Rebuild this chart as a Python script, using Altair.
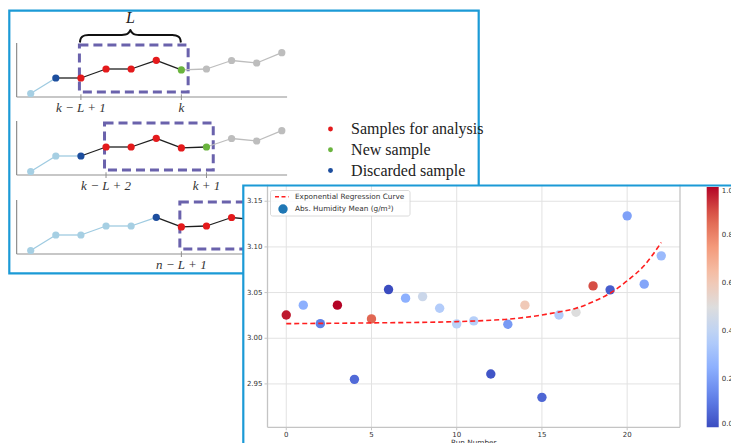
import altair as alt
import pandas as pd

# ---------------- sliding-window diagram (left) ----------------
SERIES = [3.5, 19.0, 19.0, 28.0, 28.0, 36.7, 27.1, 28.0, 36.5, 34.0, 44.3]
WINDOW_START = [2, 3, 6]
WINDOW_LEN = 5
PANEL_BASE = [0, -78, -157]
PANEL_LABEL_IDX = [[2, 6], [3, 7], [6]]
PANEL_LABELS = [["k − L + 1", "k"], ["k − L + 2", "k + 1"], ["n − L + 1"]]
ROLE_NAMES = ["Samples for analysis", "New sample", "Discarded sample", "Past sample", "Future sample"]
ROLE_COLORS = ["#e41a1c", "#6ab43e", "#1d4e9e", "#a6cfe3", "#bdbdbd"]
SEGMENT_KINDS = ["past", "window", "future"]
SEGMENT_COLORS = ["#9fcbe1", "#1f1f1f", "#bdbdbd"]
BRACE_X = [1.96, 1.98, 2.05, 2.16, 2.30, 3.63, 3.77, 3.88, 3.95, 3.97, 3.99, 4.06, 4.17, 4.31, 5.64, 5.78, 5.89, 5.96, 5.98]
BRACE_H = [54.5, 57.5, 60.2, 61.6, 62.0, 62.0, 62.4, 63.8, 66.0, 67.0, 66.0, 63.8, 62.4, 62.0, 62.0, 61.6, 60.2, 57.5, 54.5]
BRACE_LABEL = "L"

# ---------------- scatter (right) ----------------
RUN = list(range(23))
HUMIDITY = [3.0255, 3.0362, 3.0160, 3.0362, 2.9550, 3.0212, 3.0533, 3.0439, 3.0456, 3.0329,
            3.0157, 3.0190, 2.9609, 3.0153, 3.0362, 2.9353, 3.0255, 3.0285, 3.0573, 3.0530,
            3.1340, 3.0592, 3.0902]
COLOR_VALUE = [0.97, 0.25, 0.12, 1.0, 0.07, 0.86, 0.0, 0.25, 0.44, 0.36, 0.38, 0.37, 0.02,
               0.19, 0.60, 0.06, 0.36, 0.50, 0.90, 0.04, 0.21, 0.22, 0.29]
CURVE_X = [0, 5, 10, 12, 13, 14, 15, 16, 17, 18, 19, 20, 21, 22]
CURVE_Y = [3.0160, 3.0168, 3.0182, 3.0197, 3.0208, 3.0228, 3.0255, 3.0288, 3.0328, 3.0400,
           3.0493, 3.0628, 3.0796, 3.1048]
X_TICKS = [0, 5, 10, 15, 20]
X_TICK_LABELS = ["0", "5", "10", "15", "20"]
Y_TICKS = [2.95, 3.00, 3.05, 3.10, 3.15]
Y_TICK_LABELS = ["2.95", "3.00", "3.05", "3.10", "3.15"]
CBAR_TICKS = [0.0, 0.2, 0.4, 0.6, 0.8, 1.0]
COOLWARM_STOPS = [0, 0.125, 0.25, 0.375, 0.5, 0.625, 0.75, 0.875, 1.0]
COOLWARM = ["#3b4cc0", "#6282ea", "#8db0fe", "#b8d0f9", "#dddddd", "#f5c4ad", "#f49a7b", "#de604d", "#b40426"]
LEGEND_LABELS = ["Exponential Regression Curve", "Abs. Humidity Mean (g/m³)"]
X_TITLE = "Run Number"

# ---------------- layout constants ----------------
BORDER = "#1b9ad6"
BOX_COLOR = "#6a62ac"
SPINE = "#c4c4c4"
AX_X0, AX_X1, AX_H = -0.56, 10.21, 54
BOX_PAD_L, BOX_PAD_R, BOX_BOTTOM, BOX_TOP = 0.06, 0.27, 5, 52
SERIF = "Liberation Serif"
SANS = "DejaVu Sans"

dx = alt.Scale(domain=[0, 10], range=[30.7, 281.8], zero=False, nice=False)
dy = alt.Scale(domain=[-346, 97], range=[443, 0], zero=False, nice=False)
SX_L, SX_R = 267.5, 680
sx = alt.Scale(domain=[-1.1, 23.1], range=[SX_L, SX_R], zero=False, nice=False)
SY_TOP, SY_BOT = 184.8, 427.3
sy = alt.Scale(domain=[2.9025, 3.168], range=[SY_BOT, SY_TOP], zero=False, nice=False)

# ---------------- build diagram tables ----------------
pts, segs, boxes, axrows, ticks, labels = [], [], [], [], [], []
for p, (start, base) in enumerate(zip(WINDOW_START, PANEL_BASE)):
    new = start + WINDOW_LEN - 1
    disc = start - 1
    for i, h in enumerate(SERIES):
        if i < disc:
            role = ROLE_NAMES[3]
        elif i == disc:
            role = ROLE_NAMES[2]
        elif i < new:
            role = ROLE_NAMES[0]
        elif i == new:
            role = ROLE_NAMES[1]
        else:
            role = ROLE_NAMES[4]
        pts.append(dict(x=i, y=h + base, role=role))
    for i in range(len(SERIES) - 1):
        kind = 0 if i < disc else (1 if i < new else 2)
        segs.append(dict(x=i, x2=i + 1, y=SERIES[i] + base, y2=SERIES[i + 1] + base,
                         lc=SEGMENT_COLORS[kind]))
    boxes.append(dict(x=start - BOX_PAD_L, x2=new + BOX_PAD_R, y=base + BOX_BOTTOM, y2=base + BOX_TOP))
    axrows.append(dict(x=AX_X0, x2=AX_X1, y=base, y2=base))
    axrows.append(dict(x=AX_X0, x2=AX_X0, y=base, y2=base + AX_H))
    for idx, txt in zip(PANEL_LABEL_IDX[p], PANEL_LABELS[p]):
        ticks.append(dict(x=idx, y=base + 2.7, y2=base - 3))
        labels.append(dict(x=idx, y=base - 11, text=txt))

pts_df = pd.DataFrame(pts)
segs_df = pd.DataFrame(segs)
boxes_df = pd.DataFrame(boxes)
ax_df = pd.DataFrame(axrows)
ticks_df = pd.DataFrame(ticks)
labels_df = pd.DataFrame(labels)
brace_df = pd.DataFrame({"x": BRACE_X, "y": BRACE_H, "o": list(range(len(BRACE_X)))})
brace_lab_df = pd.DataFrame({"x": [(BRACE_X[0] + BRACE_X[-1]) / 2], "y": [79], "t": [BRACE_LABEL]})

X = lambda f="x": alt.X(f"{f}:Q", scale=dx, axis=None)
Y = lambda f="y": alt.Y(f"{f}:Q", scale=dy, axis=None)

d_axes = alt.Chart(ax_df).mark_rule(color="#8f8f8f", strokeWidth=1.2).encode(
    x=X(), x2="x2:Q", y=Y(), y2="y2:Q")
d_ticks = alt.Chart(ticks_df).mark_rule(color="#8f8f8f", strokeWidth=1).encode(
    x=X(), y=Y(), y2="y2:Q")
d_boxes = alt.Chart(boxes_df).mark_rect(fill="transparent", stroke=BOX_COLOR, strokeWidth=3,
                                        strokeDash=[9, 5]).encode(
    x=X(), x2="x2:Q", y=Y(), y2="y2:Q")
d_segs = alt.Chart(segs_df).mark_rule(strokeWidth=1.3).encode(
    x=X(), x2="x2:Q", y=Y(), y2="y2:Q", color=alt.Color("lc:N", scale=None))
d_pts = alt.Chart(pts_df).mark_circle(size=52, opacity=1).encode(
    x=X(), y=Y(),
    color=alt.Color("role:N", scale=alt.Scale(domain=ROLE_NAMES, range=ROLE_COLORS),
                    legend=alt.Legend(orient="none", legendX=322.5, legendY=121, values=ROLE_NAMES[:3],
                                      title=None, labelFont=SERIF, labelFontSize=16, labelColor="#222",
                                      symbolType="circle", symbolSize=24, symbolStrokeWidth=0,
                                      symbolOpacity=1, labelOffset=12.6, rowPadding=4.75, padding=0,
                                      direction="vertical")))
d_brace = alt.Chart(brace_df).mark_line(color="#111111", strokeWidth=2, interpolate="monotone").encode(
    x=X(), y=Y(), order="o:Q")
d_brace_lab = alt.Chart(brace_lab_df).mark_text(font=SERIF, fontStyle="italic", fontSize=16,
                                                color="#222").encode(x=X(), y=Y(), text="t:N")
d_labels = alt.Chart(labels_df).mark_text(font=SERIF, fontStyle="italic", fontSize=13, color="#333",
                                          baseline="middle", align="center").encode(
    x=X(), y=Y(), text="text:N")

diagram = alt.layer(d_axes, d_ticks, d_boxes, d_segs, d_pts, d_brace, d_brace_lab, d_labels)

one = pd.DataFrame({"a": [0]})
left_border = alt.Chart(one).mark_rect(fill="transparent", stroke=BORDER, strokeWidth=2.2).encode(
    x=alt.value(9.3), x2=alt.value(478.7), y=alt.value(10.7), y2=alt.value(273.3))
scatter_bg = alt.Chart(one).mark_rect(fill="white").encode(
    x=alt.value(243.3), x2=alt.value(760), y=alt.value(185.5), y2=alt.value(470))
scatter_border = alt.Chart(one).mark_rect(fill="transparent", stroke=BORDER, strokeWidth=2.2).encode(
    x=alt.value(243.3), x2=alt.value(760), y=alt.value(185.5), y2=alt.value(470))

# ---------------- scatter group ----------------
sc_df = pd.DataFrame({"run": RUN, "hum": HUMIDITY, "c": COLOR_VALUE})
curve_df = pd.DataFrame({"run": CURVE_X, "hum": CURVE_Y})
xt_df = pd.DataFrame({"t": X_TICKS, "lab": X_TICK_LABELS})
yt_df = pd.DataFrame({"t": Y_TICKS, "lab": Y_TICK_LABELS})

SXQ = lambda f: alt.X(f"{f}:Q", scale=sx, axis=None)
SYQ = lambda f: alt.Y(f"{f}:Q", scale=sy, axis=None)

xgrid = alt.Chart(xt_df).mark_rule(color="#e2e2e2", strokeWidth=1).encode(
    x=SXQ("t"), y=alt.value(SY_TOP), y2=alt.value(SY_BOT))
ygrid = alt.Chart(yt_df).mark_rule(color="#e2e2e2", strokeWidth=1).encode(
    y=SYQ("t"), x=alt.value(SX_L), x2=alt.value(SX_R))
# x axis: ticks, labels, title
xticks = alt.Chart(xt_df).mark_rule(color=SPINE, strokeWidth=1).encode(
    x=SXQ("t"), y=alt.value(SY_BOT), y2=alt.value(SY_BOT + 3))
xlabels = alt.Chart(xt_df).mark_text(font=SANS, fontSize=7, color="#333", baseline="top",
                                     align="center").encode(
    x=SXQ("t"), y=alt.value(SY_BOT + 3.5), text="lab:N")
xtitle = alt.Chart(one).mark_text(font=SANS, fontSize=7.3, color="#333", baseline="top",
                                  align="center").encode(
    x=alt.value((SX_L + SX_R) / 2), y=alt.value(SY_BOT + 11.5), text=alt.value(X_TITLE))
# y axis: ticks, labels
yticks = alt.Chart(yt_df).mark_rule(color=SPINE, strokeWidth=1).encode(
    y=SYQ("t"), x=alt.value(SX_L - 3), x2=alt.value(SX_L))
ylabels = alt.Chart(yt_df).mark_text(font=SANS, fontSize=7, color="#333", baseline="middle",
                                     align="right").encode(
    y=SYQ("t"), x=alt.value(SX_L - 5), text="lab:N")
# spines
lspine = alt.Chart(one).mark_rule(color=SPINE, strokeWidth=1.3).encode(
    x=alt.value(SX_L), y=alt.value(SY_TOP), y2=alt.value(SY_BOT))
rspine = alt.Chart(one).mark_rule(color=SPINE, strokeWidth=1.3).encode(
    x=alt.value(SX_R), y=alt.value(SY_TOP), y2=alt.value(SY_BOT))
bspine = alt.Chart(one).mark_rule(color=SPINE, strokeWidth=1.3).encode(
    y=alt.value(SY_BOT), x=alt.value(SX_L), x2=alt.value(SX_R))

sc_pts = alt.Chart(sc_df).mark_circle(size=88, opacity=1).encode(
    x=SXQ("run"), y=SYQ("hum"),
    color=alt.Color("c:Q", scale=alt.Scale(domain=COOLWARM_STOPS, range=COOLWARM, interpolate="rgb"),
                    legend=alt.Legend(orient="none", legendX=706.7, legendY=187, direction="vertical",
                                      gradientLength=240.3, gradientThickness=12, values=CBAR_TICKS,
                                      format=".1f", labelFont=SANS, labelFontSize=7, labelColor="#333",
                                      labelOffset=3, labelBaseline="middle", title=None,
                                      gradientStrokeWidth=0, padding=0, labelOverlap=False)))
sc_curve = alt.Chart(curve_df).mark_line(color="#ff1f1f", strokeWidth=1.6, strokeDash=[5, 3],
                                         interpolate="monotone").encode(
    x=SXQ("run"), y=SYQ("hum"))

scatter = alt.layer(xgrid, ygrid, lspine, rspine, bspine, xticks, yticks, xlabels, ylabels, xtitle,
                    sc_pts, sc_curve)

# ---------------- scatter legend (matplotlib style) ----------------
leg_box = alt.Chart(one).mark_rect(fill="white", fillOpacity=0.85, stroke="#d0d0d0", strokeWidth=0.8,
                                   cornerRadius=2).encode(
    x=alt.value(270.5), x2=alt.value(410), y=alt.value(190.5), y2=alt.value(216))
leg_line = alt.Chart(one).mark_rule(color="#ff1f1f", strokeWidth=1.5, strokeDash=[4, 2.5]).encode(
    x=alt.value(275), x2=alt.value(288.5), y=alt.value(196.7))
leg_dot = alt.Chart(one).mark_circle(size=88, color="#1f77b4", opacity=1).encode(
    x=alt.value(283), y=alt.value(209))
leg_t1 = alt.Chart(one).mark_text(font=SANS, fontSize=7.3, color="#333", align="left",
                                  baseline="middle").encode(
    x=alt.value(295), y=alt.value(196.7), text=alt.value(LEGEND_LABELS[0]))
leg_t2 = alt.Chart(one).mark_text(font=SANS, fontSize=7.3, color="#333", align="left",
                                  baseline="middle").encode(
    x=alt.value(295), y=alt.value(209.3), text=alt.value(LEGEND_LABELS[1]))

chart = alt.layer(
    diagram, left_border, scatter_bg, scatter, leg_box, leg_line, leg_dot, leg_t1, leg_t2, scatter_border
).resolve_scale(
    x="independent", y="independent", color="independent"
).properties(
    width=731, height=443, autosize=alt.AutoSizeParams(type="none"), padding=0, background="white"
).configure_view(stroke=None)

chart.save("out.html", embed_options={"renderer": "svg", "actions": False})
